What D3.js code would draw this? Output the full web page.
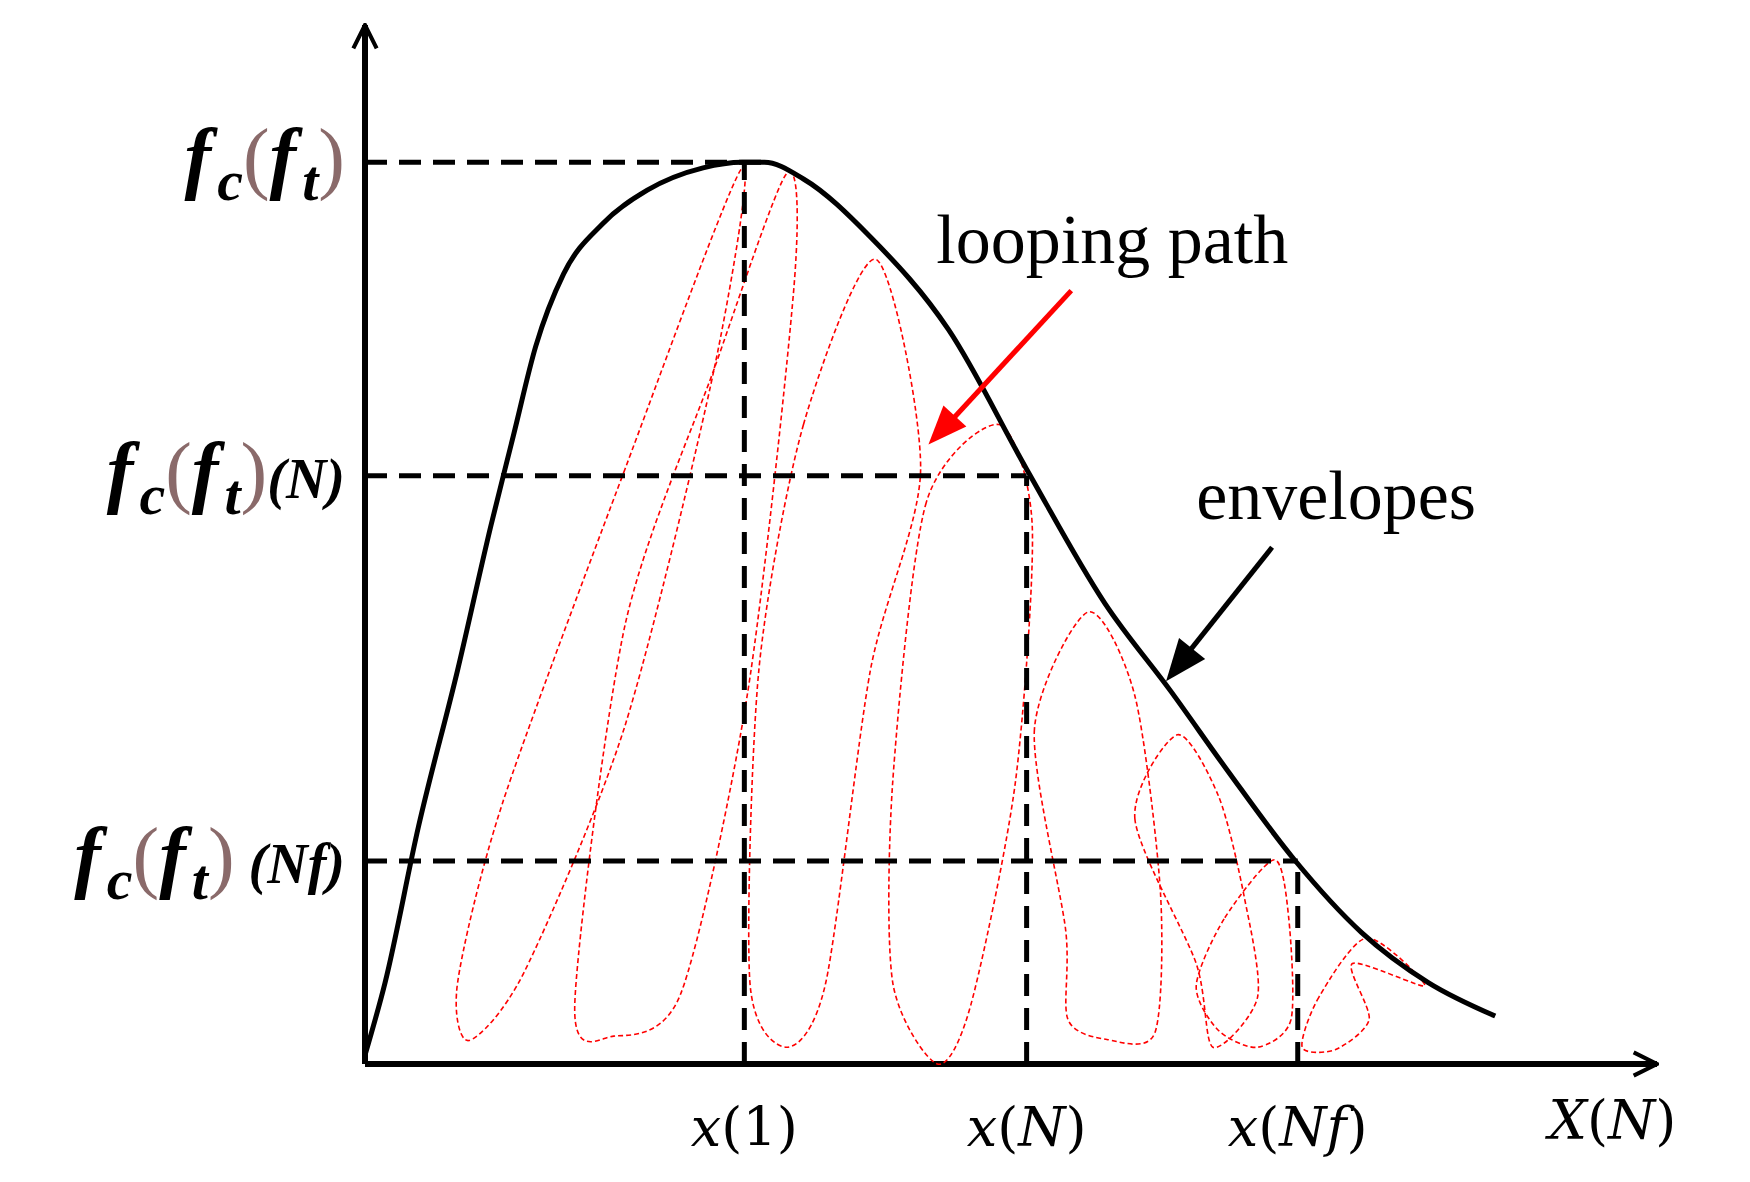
<!DOCTYPE html>
<html><head><meta charset="utf-8">
<script src="https://cdn.jsdelivr.net/npm/d3@7"></script>
<style>body{margin:0;background:#fff}</style>
</head><body>
<svg id="chart" width="1750" height="1182"></svg>
<script>
// envelope curve, in axis units (origin at axes corner)
const envelope = [[0,8],[18,73],[48,213],[83,353],[113,483],[133,563],[153,643],[178,708],[213,753],[253,783],[303,803],[338,808],[358,808],[393,793],[453,741],[523,658],[593,533],[663,413],[723,333],[773,263],[833,183],[893,118],[953,73],[1013,43]];
// looping paths (closed)
const loops = [
  [[338,803],[233,533],[123,233],[83,73],[93,21],[143,83],[233,303],[313,623]],
  [[378,798],[313,623],[233,393],[188,53],[223,25],[283,63],[343,333],[385,703]],
  [[458,721],[393,573],[353,353],[345,73],[378,15],[413,73],[453,353],[498,533]],
  [[568,573],[503,503],[473,253],[473,73],[513,0],[543,53],[583,253],[598,483]],
  [[648,405],[600,300],[628,120],[630,40],[665,22],[708,28],[713,153],[690,330]],
  [[728,295],[690,220],[745,90],[760,15],[800,60],[788,150],[765,240]],
  [[815,183],[770,130],[745,70],[765,30],[800,15],[830,40],[828,130]],
  [[898,113],[855,60],[840,15],[870,13],[900,40],[885,90],[950,70]]
];
const levels = [808, 527, 182];
const levelLabels = [["f","c","f","t",""],["f","c","f","t","(N)"],["f","c","f","t"," (Nf)"]];
const marks = [340, 593, 836];
const markLabels = ["1", "N", "Nf"];

const svg = d3.select("#chart");
const x = d3.scaleLinear().domain([0, 1158]).range([365, 1657]);
const y = d3.scaleLinear().domain([0, 931]).range([1064, 25]);

svg.append("defs").append("marker").attr("id","ah").attr("viewBox","0 0 24 24")
  .attr("refX",22).attr("refY",12).attr("markerWidth",28).attr("markerHeight",28)
  .attr("markerUnits","userSpaceOnUse").attr("orient","auto")
  .append("path").attr("d","M2,2 L22,12 L2,22").attr("fill","none").attr("stroke","#000").attr("stroke-width",3.5);

// axes
svg.append("line").attr("x1",x(0)).attr("y1",y(0)).attr("x2",x(0)).attr("y2",y(931))
  .attr("stroke","#000").attr("stroke-width",6).attr("marker-end","url(#ah)");
svg.append("line").attr("x1",x(0)).attr("y1",y(0)).attr("x2",x(1158)).attr("y2",y(0))
  .attr("stroke","#000").attr("stroke-width",6).attr("marker-end","url(#ah)");

// loops
const closed = d3.line().x(d => x(d[0])).y(d => y(d[1])).curve(d3.curveCardinalClosed.tension(0.2));
svg.selectAll(".loop").data(loops).join("path").attr("class","loop")
  .attr("d", closed).attr("fill","none").attr("stroke","#f00").attr("stroke-width",1.6).attr("stroke-dasharray","5,3");

// dashed guides
svg.selectAll(".lev").data(levels).join("line")
  .attr("x1",x(0)).attr("x2",(d,i)=>x([358,593,836][i])).attr("y1",d=>y(d)).attr("y2",d=>y(d))
  .attr("stroke","#000").attr("stroke-width",5).attr("stroke-dasharray","22,12");
svg.selectAll(".mk").data(marks).join("line")
  .attr("x1",d=>x(d)).attr("x2",d=>x(d)).attr("y1",y(0)).attr("y2",(d,i)=>y(levels[i]))
  .attr("stroke","#000").attr("stroke-width",5).attr("stroke-dasharray","22,12");

// envelope
svg.append("path").datum(envelope)
  .attr("d", d3.line().x(d=>x(d[0])).y(d=>y(d[1])).curve(d3.curveMonotoneX))
  .attr("fill","none").attr("stroke","#000").attr("stroke-width",5);

// y labels
levels.forEach((lv,i) => {
  const t = svg.append("text").attr("x", x(0)-20).attr("y", y(lv)+22).attr("text-anchor","end")
    .attr("font-family","Liberation Serif").attr("font-weight","bold").attr("font-style","italic").attr("font-size",80);
  const l = levelLabels[i];
  t.append("tspan").text(l[0]);
  t.append("tspan").attr("dx",6).attr("dy",16).attr("font-size",58).text(l[1]);
  t.append("tspan").attr("dy",-16).attr("fill","#8a6a6a").attr("font-weight","normal").attr("font-style","normal").text("(");
  t.append("tspan").text(l[2]);
  t.append("tspan").attr("dx",6).attr("dy",16).attr("font-size",58).text(l[3]);
  t.append("tspan").attr("dy",-16).attr("fill","#8a6a6a").attr("font-weight","normal").attr("font-style","normal").text(")");
  if (l[4]) t.append("tspan").attr("font-size",56).text(l[4]);
});

// x labels
marks.forEach((m,i) => {
  const t = svg.append("text").attr("x", x(m)).attr("y", y(0)+82).attr("text-anchor","middle")
    .attr("font-family","DejaVu Serif").attr("font-size",54);
  t.append("tspan").attr("font-style","italic").text("x");
  t.append("tspan").text("(");
  t.append("tspan").attr("font-style", markLabels[i]==="1" ? "normal":"italic").text(markLabels[i]);
  t.append("tspan").text(")");
});
const xl = svg.append("text").attr("x", x(1118)).attr("y", y(0)+75).attr("text-anchor","middle")
  .attr("font-family","DejaVu Serif").attr("font-size",54);
xl.append("tspan").attr("font-style","italic").text("X");
xl.append("tspan").text("(");
xl.append("tspan").attr("font-style","italic").text("N");
xl.append("tspan").text(")");

// annotations
svg.append("text").attr("x", x(512)).attr("y", y(718)).attr("font-family","Liberation Serif")
  .attr("font-size",70).text("looping path");
svg.append("text").attr("x", x(745)).attr("y", y(488)).attr("font-family","Liberation Serif")
  .attr("font-size",70).text("envelopes");

// red arrow
svg.append("line").attr("x1",x(633)).attr("y1",y(693)).attr("x2",x(513)).attr("y2",y(563))
  .attr("stroke","#f00").attr("stroke-width",5);
svg.append("path").attr("d", (() => {
  const tx=x(505), ty=y(555), a=Math.atan2(y(563)-y(693), x(513)-x(633));
  const L=42, W=0.38;
  return `M${tx},${ty}L${tx-L*Math.cos(a-W)},${ty-L*Math.sin(a-W)}L${tx-L*Math.cos(a+W)},${ty-L*Math.sin(a+W)}Z`;
})()).attr("fill","#f00");
// black arrow
svg.append("line").attr("x1",x(813)).attr("y1",y(463)).attr("x2",x(735)).attr("y2",y(365))
  .attr("stroke","#000").attr("stroke-width",5);
svg.append("path").attr("d", (() => {
  const tx=x(718), ty=y(343), a=Math.atan2(y(365)-y(463), x(735)-x(813));
  const L=45, W=0.38;
  return `M${tx},${ty}L${tx-L*Math.cos(a-W)},${ty-L*Math.sin(a-W)}L${tx-L*Math.cos(a+W)},${ty-L*Math.sin(a+W)}Z`;
})()).attr("fill","#000");
</script>
</body></html>
